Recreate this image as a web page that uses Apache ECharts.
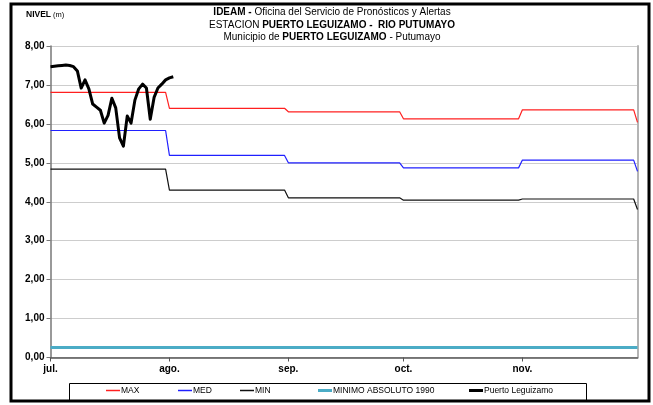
<!DOCTYPE html>
<html>
<head>
<meta charset="utf-8">
<script src="https://cdn.jsdelivr.net/npm/echarts@6/dist/echarts.min.js"></script>
<style>
  html, body { margin: 0; padding: 0; background: #fff; }
  #chart { width: 653px; height: 405px; }
</style>
</head>
<body>
<div id="chart"></div>
<script>
// meses del eje (inicio de mes) y dias de cada mes
var monthKeys = ['07', '08', '09', '10', '11'];
var monthDays = [31, 31, 30, 31, 30];
var monthLabels = ['jul.', 'ago.', 'sep.', 'oct.', 'nov.'];

// niveles mensuales de referencia (jul..nov, y valor del 1 de dic.)
var maxLevels = [6.81, 6.40, 6.31, 6.13, 6.36, 6.04];
var medLevels = [5.83, 5.19, 5.00, 4.87, 5.07, 4.78];
var minLevels = [4.84, 4.30, 4.10, 4.04, 4.07, 3.80];
var minAbs1990 = 0.26;

// niveles diarios observados en Puerto Leguizamo desde el 1 de julio
var obsValues = [7.47, 7.48, 7.49, 7.50, 7.51, 7.50, 7.47, 7.36, 6.92, 7.13,
  6.90, 6.51, 6.43, 6.35, 6.02, 6.22, 6.66, 6.41, 5.64, 5.43,
  6.20, 6.02, 6.61, 6.90, 7.02, 6.92, 6.12, 6.68, 6.92, 7.02,
  7.13, 7.18, 7.21];

var FONT = "'Liberation Sans Narrow', 'Liberation Sans', Arial, sans-serif";

function pad(n) { return n < 10 ? '0' + n : '' + n; }

// categorias diarias jul 1 .. dic 1
var days = [];
monthKeys.forEach(function (m, i) {
  for (var d = 1; d <= monthDays[i]; d++) days.push(m + '-' + pad(d));
});
days.push('12-01');

function stepSeries(levels) {
  var out = [];
  monthKeys.forEach(function (m, i) {
    out.push([m + '-01', levels[i]]);
    out.push([m + '-' + pad(monthDays[i]), levels[i]]);
  });
  out.push(['12-01', levels[levels.length - 1]]);
  return out;
}

var obsData = obsValues.map(function (v, i) { return [days[i], v]; });
var absData = [[days[0], minAbs1990], [days[days.length - 1], minAbs1990]];

function isMonthStart(idx, val) {
  return val.slice(3) === '01' && val !== '12-01';
}

function legendItem(name, left) {
  var thick = name === 'MINIMO ABSOLUTO 1990' || name === 'Puerto Leguizamo';
  return {
    data: [name], left: left, top: 386, padding: 0,
    icon: 'rect', itemWidth: 14, itemHeight: thick ? 3 : 1.5,
    itemGap: 0,
    textStyle: { fontFamily: FONT, fontSize: 8.5, color: '#000', padding: [0, 0, 0, -4] }
  };
}

var chart = echarts.init(document.getElementById('chart'));
chart.setOption({
  animation: false,
  title: [
    {
      text: '{b|IDEAM - }Oficina del Servicio de Pronósticos y Alertas\nESTACION {b|PUERTO LEGUIZAMO -  RIO PUTUMAYO}\nMunicipio de {b|PUERTO LEGUIZAMO} - Putumayo',
      left: 332, top: 6, padding: 0, textAlign: 'center',
      textStyle: {
        fontFamily: FONT, fontSize: 10, fontWeight: 'normal', color: '#000', lineHeight: 12.5,
        rich: { b: { fontFamily: FONT, fontSize: 10, fontWeight: 'bold', color: '#000', lineHeight: 12.5 } }
      }
    },
    {
      text: '{b|NIVEL} (m)',
      left: 26, top: 10, padding: 0,
      textStyle: {
        fontFamily: FONT, fontSize: 7.5, fontWeight: 'normal', color: '#000',
        rich: { b: { fontFamily: FONT, fontSize: 8.5, fontWeight: 'bold', color: '#000' } }
      }
    }
  ],
  legend: [
    legendItem('MAX', 106),
    legendItem('MED', 178),
    legendItem('MIN', 240),
    legendItem('MINIMO ABSOLUTO 1990', 318),
    legendItem('Puerto Leguizamo', 469)
  ],
  grid: { left: 50.5, right: 15.5, top: 46, bottom: 47.5 },
  xAxis: {
    type: 'category',
    data: days,
    boundaryGap: false,
    axisLine: { lineStyle: { color: '#555', width: 1.5 } },
    axisTick: { interval: isMonthStart, length: 4, lineStyle: { color: '#555' } },
    axisLabel: {
      interval: isMonthStart,
      margin: 7,
      fontFamily: FONT, fontSize: 10, fontWeight: 'bold', color: '#000',
      formatter: function (val) { return monthLabels[monthKeys.indexOf(val.slice(0, 2))]; }
    },
    splitLine: { show: false }
  },
  yAxis: [
    {
      type: 'value', min: 0, max: 8, interval: 1,
      axisLine: { show: true, lineStyle: { color: '#777', width: 1.5 } },
      axisTick: { show: true, length: 4, lineStyle: { color: '#777' } },
      axisLabel: {
        margin: 6, fontFamily: FONT, fontSize: 10, fontWeight: 'bold', color: '#000',
        formatter: function (v) { return v.toFixed(2).replace('.', ','); }
      },
      splitLine: { lineStyle: { color: '#9a9a9a', type: 'dotted', width: 1 } }
    },
    {
      type: 'value', min: 0, max: 8, interval: 1, position: 'right',
      axisLine: { show: true, lineStyle: { color: '#b4b4b4', width: 2 } },
      axisTick: { show: false }, axisLabel: { show: false }, splitLine: { show: false }
    }
  ],
  series: [
    { name: 'MAX', type: 'line', data: stepSeries(maxLevels), showSymbol: false,
      itemStyle: { color: '#ff2020' }, lineStyle: { color: '#ff2020', width: 1.2 } },
    { name: 'MED', type: 'line', data: stepSeries(medLevels), showSymbol: false,
      itemStyle: { color: '#2020ff' }, lineStyle: { color: '#2020ff', width: 1.2 } },
    { name: 'MIN', type: 'line', data: stepSeries(minLevels), showSymbol: false,
      itemStyle: { color: '#111' }, lineStyle: { color: '#111', width: 1.2 } },
    { name: 'MINIMO ABSOLUTO 1990', type: 'line', data: absData, showSymbol: false,
      itemStyle: { color: '#4bacc6' }, lineStyle: { color: '#4bacc6', width: 3 } },
    { name: 'Puerto Leguizamo', type: 'line', data: obsData, showSymbol: false,
      itemStyle: { color: '#000' }, lineStyle: { color: '#000', width: 3, join: 'round' } }
  ],
  graphic: [
    { type: 'rect', shape: { x: 11, y: 4, width: 638, height: 397 },
      style: { fill: 'none', stroke: '#000', lineWidth: 3 }, z: 100 },
    { type: 'rect', shape: { x: 69.5, y: 383.5, width: 517, height: 17 },
      style: { fill: 'none', stroke: '#000', lineWidth: 1 }, z: 100 }
  ]
});
</script>
</body>
</html>
